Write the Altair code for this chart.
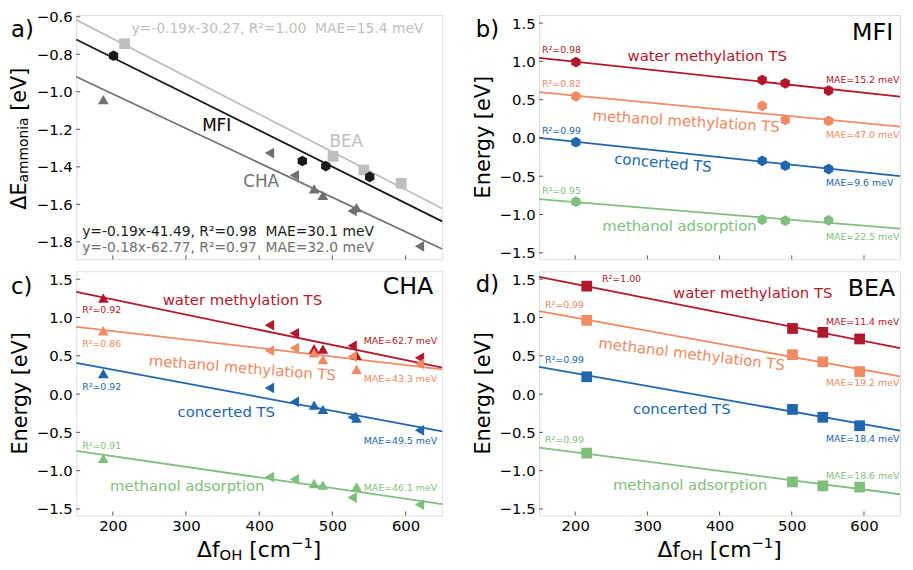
import altair as alt
import pandas as pd

FONT = "DejaVu Sans"
FRAME = "#555555"

# ---------------- data ----------------
X_DOMAIN = [150, 650]
X_TICKS = [200, 300, 400, 500, 600]
LINE_X = [150, 650]

MFI_X = [201, 459, 491, 551]
BEA_X = [216, 501, 543, 594]
CHA_X = [187, 414, 448, 475, 487, 527, 533, 619]
CHA_MARK = ["up", "left", "left", "up", "up", "left", "up", "left"]

# panel a: ammonia adsorption energy
A_SERIES = ["BEA", "MFI", "CHA"]
A_COLORS = ["#bfbfbf", "#1a1a1a", "#707070"]
A_BEA = [-0.744, -1.344, -1.417, -1.488]
A_MFI = [-0.808, -1.369, -1.396, -1.454]
A_CHA = [-1.042, -1.327, -1.445, -1.518, -1.552, -1.635, -1.617, -1.824]
A_FIT_BEA = [-0.617, -1.622]
A_FIT_MFI = [-0.721, -1.691]
A_FIT_CHA = [-0.920, -1.838]
A_EQ = ["y=-0.19x-30.27, R\u00b2=1.00 \u00a0MAE=15.4 meV",
        "y=-0.19x-41.49, R\u00b2=0.98 \u00a0MAE=30.1 meV",
        "y=-0.18x-62.77, R\u00b2=0.97 \u00a0MAE=32.0 meV"]

STEPS = ["water methylation TS", "methanol methylation TS", "concerted TS", "methanol adsorption"]
STEP_COLORS = ["#b2182b", "#ef8a62", "#2166ac", "#7fbf7b"]

# panel b: MFI
B_VALS = [[0.991, 0.756, 0.714, 0.619],
          [0.542, 0.419, 0.235, 0.222],
          [-0.056, -0.299, -0.363, -0.406],
          [-0.833, -1.068, -1.081, -1.077]]
B_FITS = [[1.047, 0.540], [0.598, 0.148], [0.000, -0.500], [-0.799, -1.185]]
B_R2 = ["0.98", "0.82", "0.99", "0.95"]
B_MAE = ["15.2", "47.0", "9.6", "22.5"]

# panel c: CHA
C_VALS = [[1.253, 0.899, 0.793, 0.592, 0.588, 0.631, 0.507, 0.473],
          [0.827, 0.567, 0.601, 0.537, 0.452, 0.490, 0.324, 0.396],
          [0.269, 0.081, -0.102, -0.145, -0.200, -0.303, -0.315, -0.473],
          [-0.840, -1.083, -1.113, -1.168, -1.189, -1.351, -1.211, -1.445]]
C_FITS = [[1.334, 0.345], [0.878, 0.324], [0.409, -0.486], [-0.742, -1.436]]
C_R2 = ["0.92", "0.86", "0.92", "0.91"]
C_MAE = ["62.7", "43.3", "49.5", "46.1"]

# panel d: BEA
D_VALS = [[1.410, 0.857, 0.806, 0.720],
          [0.963, 0.515, 0.422, 0.294],
          [0.226, -0.200, -0.303, -0.413],
          [-0.771, -1.147, -1.198, -1.215]]
D_FITS = [[1.530, 0.600], [1.083, 0.230], [0.354, -0.477], [-0.699, -1.308]]
D_R2 = ["1.00", "0.99", "0.99", "0.99"]
D_MAE = ["11.4", "19.2", "18.4", "18.6"]

A_YTICKS = [-1.8, -1.6, -1.4, -1.2, -1.0, -0.8, -0.6]
E_YTICKS = [-1.5, -1.0, -0.5, 0.0, 0.5, 1.0, 1.5]

HEX = "M0,-1L0.866,-0.5L0.866,0.5L0,1L-0.866,0.5L-0.866,-0.5Z"
SHAPE_DOM = ["hex", "square", "up", "left"]
SHAPE_RNG = [HEX, "square", "triangle-up", "triangle-left"]

ALL_SERIES = A_SERIES + STEPS
ALL_COLORS = A_COLORS + STEP_COLORS

W1, W2, H = 370, 365, 247
ONE = pd.DataFrame({"k": [0]})

CW = {"\u0394": 0.684, "E": 0.632, "a": 0.613, "m": 0.974, "o": 0.612, "n": 0.634,
      "i": 0.278, " ": 0.318, "[": 0.390, "e": 0.615, "V": 0.684, "]": 0.390,
      "f": 0.352, "O": 0.787, "H": 0.752, "c": 0.550, "\u2212": 0.838, "1": 0.636}


def tw(s, size):
    return sum(CW.get(ch, 0.6) for ch in s) * size


def txt(s, x, y, size, color, align="left", baseline="middle", angle=0):
    return alt.Chart(ONE).mark_text(
        text=s, font=FONT, fontSize=size, color=color, align=align,
        baseline=baseline, angle=angle
    ).encode(x=alt.value(x), y=alt.value(y))


def rich(parts, cx, cy, angle=0, color="black"):
    total = sum(tw(t, s) for t, s, _ in parts)
    out = []
    off = 0.0
    for t, s, shift in parts:
        lead = len(t) - len(t.lstrip())
        off += lead * CW[" "] * s
        body = t.strip()
        if angle == 0:
            out.append(txt(body, cx - total / 2 + off, cy + shift, s, color,
                           baseline="alphabetic"))
        else:
            out.append(txt(body, cx + shift, cy + total / 2 - off, s, color,
                           baseline="alphabetic", angle=270))
        off += tw(body, s)
    return out


def panel(pts, lines, ydom, yticks, w, xlabels, texts):
    X = alt.X("x:Q", scale=alt.Scale(domain=X_DOMAIN, nice=False, zero=False),
              axis=alt.Axis(values=X_TICKS, labels=xlabels, ticks=False, domain=False,
                            grid=False, title=None, labelFontSize=15, labelPadding=3,
                            format="d", labelFont=FONT, labelColor="black"))
    Y = alt.Y("y:Q", scale=alt.Scale(domain=ydom, nice=False, zero=False),
              axis=alt.Axis(values=yticks, ticks=False, domain=False, grid=False,
                            title=None, labelFontSize=15, labelPadding=4, format=".1f",
                            labelFont=FONT, labelColor="black"))
    col = alt.Color("s:N", scale=alt.Scale(domain=ALL_SERIES, range=ALL_COLORS), legend=None)
    ln = alt.Chart(lines).mark_line(strokeWidth=1.8).encode(
        x=X, y=Y, color=col, detail="s:N")
    pt = alt.Chart(pts).mark_point(filled=True, opacity=1, size=118).encode(
        x=X, y=Y, color=col,
        shape=alt.Shape("m:N", scale=alt.Scale(domain=SHAPE_DOM, range=SHAPE_RNG), legend=None))
    xt = alt.Chart(pd.DataFrame({"x": X_TICKS})).mark_rule(color=FRAME, strokeWidth=1).encode(
        x=X, y=alt.value(H), y2=alt.value(H - 4))
    yt = alt.Chart(pd.DataFrame({"y": yticks})).mark_rule(color=FRAME, strokeWidth=1).encode(
        y=Y, x=alt.value(0), x2=alt.value(4))
    return alt.layer(ln, pt, xt, yt, *texts).properties(width=w, height=H)


def rows_pts(xs, marks, series, vals):
    r = []
    for s, v in zip(series, vals):
        for x, m, y in zip(xs, marks, v):
            r.append({"x": x, "y": y, "s": s, "m": m})
    return r


def rows_lines(series, fits):
    r = []
    for s, f in zip(series, fits):
        for x, y in zip(LINE_X, f):
            r.append({"x": x, "y": y, "s": s})
    return r


# ---------------- panel a ----------------
a_pts = pd.DataFrame(
    rows_pts(BEA_X, ["square"] * 4, ["BEA"], [A_BEA])
    + rows_pts(MFI_X, ["hex"] * 4, ["MFI"], [A_MFI])
    + rows_pts(CHA_X, CHA_MARK, ["CHA"], [A_CHA]))
a_lines = pd.DataFrame(rows_lines(A_SERIES, [A_FIT_BEA, A_FIT_MFI, A_FIT_CHA]))
a_texts = [
    txt("a)", -66, 22, 23, "black", baseline="alphabetic"),
    txt(A_EQ[0], 56, 14, 14, A_COLORS[0]),
    txt("MFI", 142, 112, 17, "black", align="center"),
    txt("BEA", 273, 128, 17, A_COLORS[0], align="center"),
    txt("CHA", 187, 169, 17, A_COLORS[2], align="center"),
    txt(A_EQ[1], 6, 219, 14, A_COLORS[1]),
    txt(A_EQ[2], 6, 236, 14, A_COLORS[2]),
] + rich([("\u0394E", 21, 0), ("ammonia", 14, 2), (" [eV]", 21, 0)], -51, 125, angle=270)
pa = panel(a_pts, a_lines, [-1.893, -0.591], A_YTICKS, W1, False, a_texts)


def energy_texts(label, labx, laby, tag, tagright, tagbase, r2, mae, r2pos, maepos, steppos, w, xlab):
    t = [txt(label, labx, laby, 23, "black", baseline="alphabetic"),
         txt(tag, tagright, tagbase, 24, "black", align="right", baseline="alphabetic")]
    for i in range(4):
        t.append(txt("R\u00b2=" + r2[i], r2pos[i][0], r2pos[i][1], 9.5, STEP_COLORS[i]))
        t.append(txt("MAE=" + mae[i] + " meV", maepos[i][0], maepos[i][1], 9.5, STEP_COLORS[i]))
        sx, sy, ang = steppos[i]
        t.append(txt(STEPS[i], sx, sy, 15, STEP_COLORS[i], align="center", angle=ang))
    t.append(txt("Energy [eV]", -50, H / 2, 21, "black", align="center",
                 baseline="alphabetic", angle=270))
    if xlab:
        t += rich([("\u0394f", 22, 0), ("OH", 15, 3.5), (" [cm", 22, 0), ("\u22121", 15, -9), ("]", 22, 0)],
                  w / 2, 289)
    return t


# ---------------- panel b ----------------
b_pts = pd.DataFrame(rows_pts(MFI_X, ["hex"] * 4, STEPS, B_VALS))
b_lines = pd.DataFrame(rows_lines(STEPS, B_FITS))
b_texts = energy_texts("b)", -64, 22, "MFI", 358, 25.7, B_R2, B_MAE,
                       [(3, 35), (3, 70), (3, 117), (3, 177.5)],
                       [(290, 66), (290, 121), (290, 170), (290, 224)],
                       [(170, 41, 0), (148.7, 107.5, 3.5), (125.3, 149.5, 5), (142, 213, 0)],
                       W2, False)
pb = panel(b_pts, b_lines, [-1.585, 1.605], E_YTICKS, W2, False, b_texts)

# ---------------- panel c ----------------
c_pts = pd.DataFrame(rows_pts(CHA_X, CHA_MARK, STEPS, C_VALS))
c_lines = pd.DataFrame(rows_lines(STEPS, C_FITS))
c_texts = energy_texts("c)", -66, 23, "CHA", 361, 23, C_R2, C_MAE,
                       [(6, 39.7), (6, 73.3), (6, 117), (6, 177)],
                       [(290.7, 70.5), (290.7, 109), (290.7, 172), (290.7, 219)],
                       [(168, 29.7, 0), (168, 98, 4.6), (151.7, 142.5, 0), (112.3, 217, 0)],
                       W1, True)
pc = panel(c_pts, c_lines, [-1.585, 1.605], E_YTICKS, W1, True, c_texts)

# ---------------- panel d ----------------
d_pts = pd.DataFrame(rows_pts(BEA_X, ["square"] * 4, STEPS, D_VALS))
d_lines = pd.DataFrame(rows_lines(STEPS, D_FITS))
d_texts = energy_texts("d)", -64, 21, "BEA", 360, 24.7, D_R2, D_MAE,
                       [(63.7, 8), (6, 34.7), (6, 90), (6, 170.5)],
                       [(290, 51.3), (290, 113.5), (290, 169.5), (290, 207)],
                       [(216, 22, 0), (154.3, 84, 6.8), (144.3, 139, 0), (152.7, 216, 0)],
                       W2, True)
pdd = panel(d_pts, d_lines, [-1.585, 1.605], E_YTICKS, W2, True, d_texts)

chart = alt.concat(pa, pb, pc, pdd, columns=2, spacing={"row": 12, "column": 98},
                   bounds="flush", align="each").properties(
    padding={"left": 0, "top": -2, "right": 0, "bottom": 0}
).configure_view(stroke=FRAME, strokeWidth=1.5).configure(font=FONT, background="white")

chart.save("out.html", embed_options={"renderer": "svg", "actions": False})
